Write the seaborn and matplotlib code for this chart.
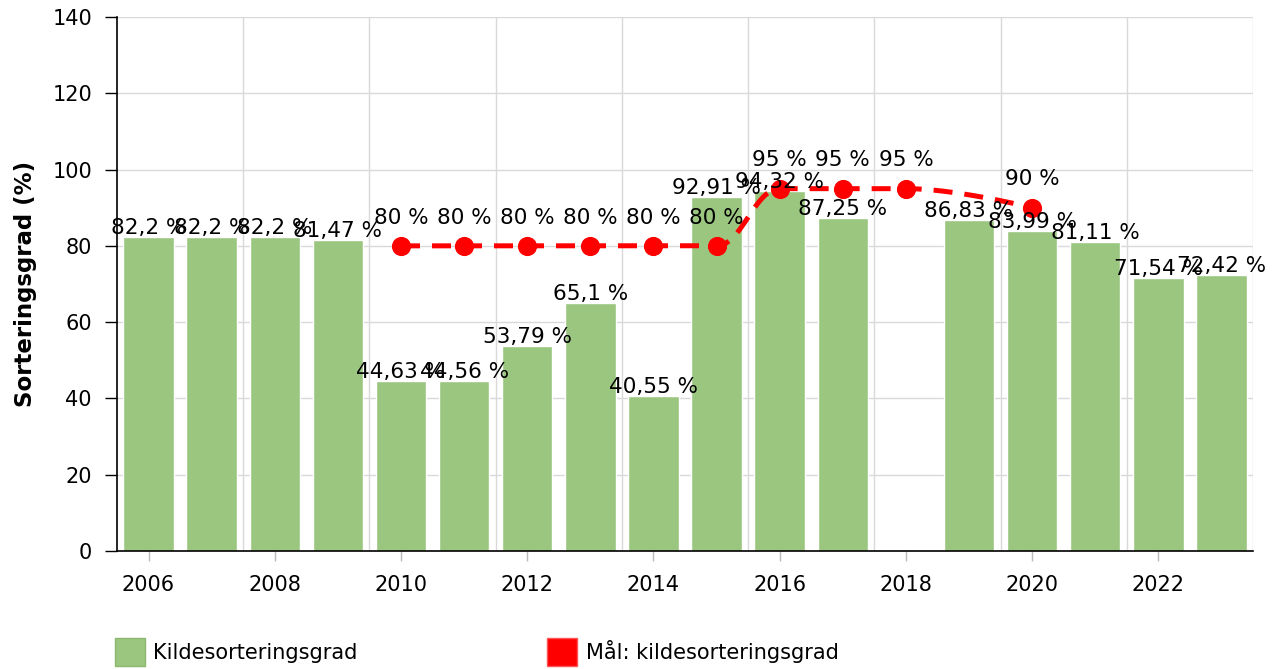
import matplotlib

matplotlib.use("Agg")
import matplotlib.pyplot as plt
import numpy as np
import pandas as pd
import seaborn as sns
from matplotlib.patches import Patch

YEARS = [2006, 2007, 2008, 2009, 2010, 2011, 2012, 2013, 2014, 2015,
         2016, 2017, 2018, 2019, 2020, 2021, 2022, 2023]
SORTING_RATE = [82.2, 82.2, 82.2, 81.47, 44.63, 44.56, 53.79, 65.1, 40.55, 92.91,
                94.32, 87.25, np.nan, 86.83, 83.99, 81.11, 71.54, 72.42]
TARGET_YEARS = [2010, 2011, 2012, 2013, 2014, 2015, 2016, 2017, 2018, 2020]
TARGET_RATE = [80, 80, 80, 80, 80, 80, 95, 95, 95, 90]
Y_TICKS = [0, 20, 40, 60, 80, 100, 120, 140]

BAR_LABEL = "Kildesorteringsgrad"
TARGET_LABEL = "Mål: kildesorteringsgrad"
Y_LABEL = "Sorteringsgrad (%)"

GREEN = "#9bc67f"
RED = "#ff0000"
FONT = 15
LABEL_FONT = 15.5


def fmt(value: float) -> str:
    text = f"{value:g}".replace(".", ",")
    return f"{text} %"


def spline_path(xs, ys, smoothing=1.5):
    # same control-point rule as a Highcharts "spline" series
    n = len(xs)
    left = [(xs[i], ys[i]) for i in range(n)]
    right = [(xs[i], ys[i]) for i in range(n)]
    d = smoothing + 1
    for i in range(1, n - 1):
        x, y = xs[i], ys[i]
        lx, ly = xs[i - 1], ys[i - 1]
        nx, ny = xs[i + 1], ys[i + 1]
        lcx, lcy = (smoothing * x + lx) / d, (smoothing * y + ly) / d
        rcx, rcy = (smoothing * x + nx) / d, (smoothing * y + ny) / d
        if rcx != lcx:
            corr = ((rcy - lcy) * (rcx - x)) / (rcx - lcx) + y - rcy
            lcy += corr
            rcy += corr
        if lcy > ly and lcy > y:
            lcy = max(ly, y)
            rcy = 2 * y - lcy
        elif lcy < ly and lcy < y:
            lcy = min(ly, y)
            rcy = 2 * y - lcy
        if rcy > ny and rcy > y:
            rcy = max(ny, y)
            lcy = 2 * y - rcy
        elif rcy < ny and rcy < y:
            rcy = min(ny, y)
            lcy = 2 * y - rcy
        left[i] = (lcx, lcy)
        right[i] = (rcx, rcy)
    t = np.linspace(0, 1, 40)[:, None]
    parts = []
    for i in range(1, n):
        p0 = np.array([xs[i - 1], ys[i - 1]])
        p1 = np.array(right[i - 1])
        p2 = np.array(left[i])
        p3 = np.array([xs[i], ys[i]])
        seg = ((1 - t) ** 3) * p0 + 3 * ((1 - t) ** 2) * t * p1 + 3 * (1 - t) * t ** 2 * p2 + t ** 3 * p3
        parts.append(seg if i == 1 else seg[1:])
    path = np.vstack(parts)
    return path[:, 0], path[:, 1]


sns.set_style("white")
plt.rcParams["font.family"] = ["DejaVu Sans"]
plt.rcParams["text.color"] = "black"
plt.rcParams["axes.labelcolor"] = "black"
plt.rcParams["xtick.labelcolor"] = "black"
plt.rcParams["ytick.labelcolor"] = "black"

df = pd.DataFrame({"year": [str(y) for y in YEARS], "rate": SORTING_RATE})

fig = plt.figure(figsize=(12.82, 6.69), dpi=100)
ax = fig.add_axes([117 / 1282, 1 - 551 / 669, (1253 - 117) / 1282, (551 - 17) / 669])

sns.barplot(data=df, x="year", y="rate", order=df["year"], color=GREEN,
            saturation=1, width=0.8, ax=ax, zorder=2)

pos = {y: i for i, y in enumerate(YEARS)}
tx = [pos[y] for y in TARGET_YEARS]
sx, sy = spline_path(tx, TARGET_RATE)
ax.plot(sx, sy, color=RED, lw=3.6, dashes=(3.8, 2.4), dash_capstyle="butt", zorder=3)
ax.plot(tx, TARGET_RATE, ls="none", marker="o", ms=12.8, color=RED, zorder=4)

for i, v in enumerate(SORTING_RATE):
    if np.isnan(v):
        continue
    ax.annotate(fmt(v), (i, v), xytext=(0, 2.2), textcoords="offset points",
                ha="center", va="baseline", fontsize=LABEL_FONT, color="black", zorder=5)
for x, v in zip(tx, TARGET_RATE):
    ax.annotate(fmt(v), (x, v), xytext=(0, 16), textcoords="offset points",
                ha="center", va="baseline", fontsize=LABEL_FONT, color="black", zorder=5)

ax.set_xlim(-0.5, len(YEARS) - 0.5)
ax.set_ylim(0, 140)
ax.set_yticks(Y_TICKS)
ax.set_yticklabels([str(v) for v in Y_TICKS], fontsize=FONT)
major = list(range(0, len(YEARS), 2))
ax.set_xticks(major)
ax.set_xticklabels([str(YEARS[i]) for i in major], fontsize=FONT)
ax.set_xticks(np.arange(1.5, len(YEARS), 2), minor=True)

ax.grid(axis="y", which="major", color="#d9d9d9", lw=1, zorder=0)
ax.grid(axis="x", which="minor", color="#d9d9d9", lw=1, zorder=0)
ax.set_axisbelow(True)
ax.tick_params(axis="x", which="major", length=7, width=1, color="#bbbbbb", pad=10, bottom=True)
ax.tick_params(axis="x", which="minor", length=0)
ax.tick_params(axis="y", length=9, width=1, color="black", pad=9, left=True)

for side in ["top", "right"]:
    ax.spines[side].set_visible(False)
for side in ["left", "bottom"]:
    ax.spines[side].set_color("black")
    ax.spines[side].set_linewidth(1.2)

ax.set_xlabel("")
ax.set_ylabel(Y_LABEL, fontsize=16.5, fontweight="bold", labelpad=11)

handles = [
    Patch(facecolor=GREEN, edgecolor="#8ab96e", label=BAR_LABEL),
    Patch(facecolor=RED, edgecolor="#ff5555", label=TARGET_LABEL),
]
fig.legend(handles=handles, loc="lower left", bbox_to_anchor=(96 / 1282, -0.024), ncol=2,
           frameon=False, fontsize=FONT, handlelength=1.45, handleheight=1.75,
           handletextpad=0.4, columnspacing=9.1)

fig.savefig("out.png", dpi=100)
plt.close(fig)
